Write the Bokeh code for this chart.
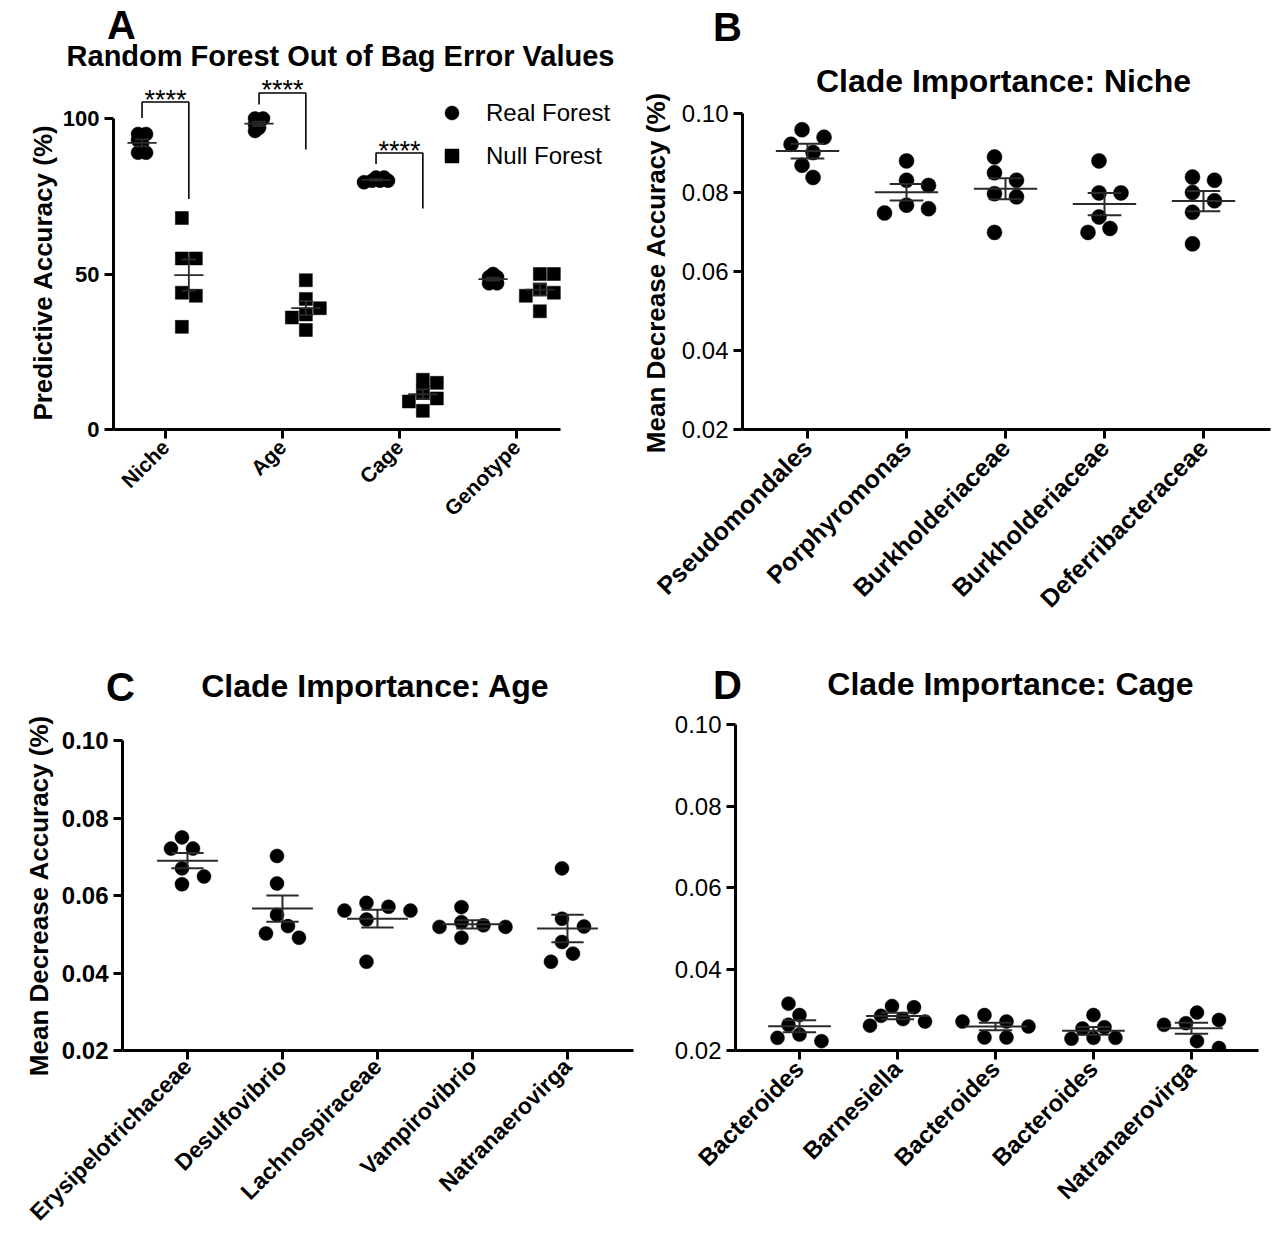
import math
import numpy as np
from bokeh.plotting import figure
from bokeh.models import FixedTicker, Label, Legend, LegendItem, Range1d, PrintfTickFormatter
from bokeh.layouts import column, row
from bokeh.embed import file_html
from bokeh.resources import INLINE

FONT = "Liberation Sans"

# ---------------- data ----------------
A_CATEGORIES = ["Niche", "Age", "Cage", "Genotype"]
A_REAL_FOREST = [[95, 95, 93, 92, 89, 89],
                 [100, 100, 99, 98, 97, 96],
                 [81, 81, 80, 80, 80, 79.5],
                 [50, 49, 49, 48, 47, 47]]
A_NULL_FOREST = [[68, 55, 55, 44, 43, 33],
                 [48, 42, 39, 37, 36, 32],
                 [16, 15, 12, 10, 9, 6],
                 [50, 50, 45, 44, 43, 38]]
A_Y_TICKS = [0, 50, 100]
# (category, label, bracket top, left leg bottom, right leg bottom)
A_SIGNIFICANCE = [("Niche", "****", 105.3, 100.2, 74.1),
                  ("Age", "****", 108.2, 104.5, 90.0),
                  ("Cage", "****", 88.9, 85.4, 71.1)]

B_CLADES = ["Pseudomondales", "Porphyromonas", "Burkholderiaceae", "Burkholderiaceae", "Deferribacteraceae"]
B_VALUES = [[0.0959, 0.0940, 0.0922, 0.0901, 0.0869, 0.0838],
            [0.0880, 0.0831, 0.0818, 0.0768, 0.0748, 0.0759],
            [0.0890, 0.0850, 0.0831, 0.0797, 0.0789, 0.0699],
            [0.0880, 0.0799, 0.0799, 0.0738, 0.0699, 0.0709],
            [0.0839, 0.0831, 0.0800, 0.0779, 0.0750, 0.0670]]

C_CLADES = ["Erysipelotrichaceae", "Desulfovibrio", "Lachnospiraceae", "Vampirovibrio", "Natranaerovirga"]
C_VALUES = [[0.0750, 0.0721, 0.0721, 0.0670, 0.0649, 0.0629],
            [0.0702, 0.0631, 0.0550, 0.0521, 0.0491, 0.0502],
            [0.0581, 0.0571, 0.0561, 0.0561, 0.0538, 0.0429],
            [0.0570, 0.0531, 0.0523, 0.0519, 0.0519, 0.0491],
            [0.0670, 0.0540, 0.0520, 0.0480, 0.0450, 0.0429]]

D_CLADES = ["Bacteroides", "Barnesiella", "Bacteroides", "Bacteroides", "Natranaerovirga"]
D_VALUES = [[0.0315, 0.0287, 0.0263, 0.0239, 0.0231, 0.0223],
            [0.0306, 0.0309, 0.0285, 0.0277, 0.0271, 0.0261],
            [0.0287, 0.0271, 0.0271, 0.0259, 0.0232, 0.0232],
            [0.0287, 0.0257, 0.0254, 0.0231, 0.0229, 0.0231],
            [0.0293, 0.0275, 0.0267, 0.0263, 0.0223, 0.0206]]

IMPORTANCE_TICKS = [0.02, 0.04, 0.06, 0.08, 0.10]

# ---------------- layout geometry (pixels) ----------------
# figures in one row share top/bottom borders (Bokeh aligns them)
GEOM = {
    "A": dict(fx=0, fy=0, w=640, h=640, l=113, r=0, t=88, b=211,
              xr=(-0.444, -0.444 + 527 / 117.0), yr=(0, 341 / 3.11), xb=(-0.444, -0.444 + 447 / 117.0)),
    "B": dict(fx=640, fy=0, w=633, h=640, l=102, r=3, t=88, b=211,
              xr=(-0.657, 4.677), yr=(0.02, 0.02 + 341 / 3950.0)),
    "C": dict(fx=0, fy=640, w=640, h=599, l=122, r=7, t=84, b=189,
              xr=(-0.684, 4.695), yr=(0.02, 0.02 + 326 / 3875.0)),
    "D": dict(fx=640, fy=640, w=633, h=599, l=95, r=15, t=84, b=189,
              xr=(-0.653, 4.684), yr=(0.02, 0.10)),
}
for g in GEOM.values():
    g["W"] = g["w"] - g["l"] - g["r"]
    g["H"] = g["h"] - g["t"] - g["b"]
    g["xppu"] = g["W"] / (g["xr"][1] - g["xr"][0])
    g["yppu"] = g["H"] / (g["yr"][1] - g["yr"][0])


def data_to_canvas(g, x, y):
    cx = g["l"] + (x - g["xr"][0]) * g["xppu"]
    cy = g["t"] + (g["yr"][1] - y) * g["yppu"]
    return cx, cy


def make_fig(g):
    p = figure(width=g["w"], height=g["h"], x_range=Range1d(*g["xr"]), y_range=Range1d(*g["yr"]),
               output_backend="svg", toolbar_location=None,
               min_border_left=g["l"], min_border_right=g["r"],
               min_border_top=g["t"], min_border_bottom=g["b"])
    p.grid.visible = False
    p.outline_line_color = None
    p.background_fill_color = "white"
    p.border_fill_color = "white"
    return p


def style_axes(p, g, names, yticks, yfmt, ybounds, tick_size, tick_bold, cat_size, cat_standoff=5):
    xa, ya = p.xaxis[0], p.yaxis[0]
    for ax in (xa, ya):
        ax.axis_line_width = 3
        ax.axis_line_color = "black"
        ax.major_tick_line_width = 3
        ax.major_tick_line_color = "black"
        ax.major_tick_out = 9
        ax.major_tick_in = 0
        ax.minor_tick_line_color = None
        ax.major_label_text_font = FONT
        ax.major_label_text_color = "black"
        ax.major_label_standoff = 5
    xa.ticker = FixedTicker(ticks=list(range(len(names))))
    xa.major_label_overrides = {i: n for i, n in enumerate(names)}
    xa.major_label_orientation = math.pi / 4
    xa.major_label_text_font_size = f"{cat_size}px"
    xa.major_label_text_font_style = "bold"
    xa.major_label_standoff = cat_standoff
    if "xb" in g:
        xa.bounds = g["xb"]
    ya.ticker = FixedTicker(ticks=yticks)
    ya.formatter = PrintfTickFormatter(format=yfmt)
    ya.bounds = ybounds
    ya.major_label_text_font_size = f"{tick_size}px"
    ya.major_label_text_font_style = "bold" if tick_bold else "normal"


def swarm_offsets(vals, g, diam, step):
    order = sorted(range(len(vals)), key=lambda i: -vals[i])
    placed = []
    offs = [0.0] * len(vals)
    cands = [0]
    for j in range(1, 30):
        cands += [j, -j]
    for i in order:
        ypx = vals[i] * g["yppu"]
        xpx = 0.0
        for c in cands:
            xpx = c * step
            if all((xpx - px) ** 2 + (ypx - py) ** 2 >= diam ** 2 - 1e-9 for px, py in placed):
                break
        placed.append((xpx, ypx))
        offs[i] = xpx
    lo, hi = min(offs), max(offs)
    shift = (lo + hi) / 2
    return [(o - shift) / g["xppu"] for o in offs]


def add_group(p, g, center, vals, marker, size, diam, step, mean_hw, cap_hw, lw):
    offs = swarm_offsets(vals, g, diam, step)
    xs = [center + o for o in offs]
    r = p.scatter(xs, vals, marker=marker, size=size, fill_color="black", line_color="black", line_width=0.5)
    m = float(np.mean(vals))
    s = float(np.std(vals, ddof=1) / math.sqrt(len(vals)))
    col = "#2a2a2a"
    p.segment(x0=[center - mean_hw], y0=[m], x1=[center + mean_hw], y1=[m], line_color=col, line_width=lw)
    p.segment(x0=[center], y0=[m - s], x1=[center], y1=[m + s], line_color=col, line_width=lw)
    p.segment(x0=[center - cap_hw, center - cap_hw], y0=[m - s, m + s],
              x1=[center + cap_hw, center + cap_hw], y1=[m - s, m + s], line_color=col, line_width=lw)
    return r


def add_text(p, g, gx, gy, text, size, side, bold=True, align="center", baseline="middle", angle=0.0):
    # gx, gy: pixel position on the page; converted to this figure's canvas
    p.add_layout(Label(x=gx - g["fx"], y=gy - g["fy"], x_units="canvas", y_units="canvas",
                       text=text, text_font=FONT, text_font_size=f"{size}px",
                       text_font_style="bold" if bold else "normal", text_align=align,
                       text_baseline=baseline, text_color="black", angle=angle), side)


# ---------------- Panel A ----------------
gA = GEOM["A"]
pA = make_fig(gA)
style_axes(pA, gA, A_CATEGORIES, A_Y_TICKS, "%d", (0, 100), 22, True, 21)
GROUP_OFF = 0.2
real_r = None
null_r = None
for i in range(len(A_CATEGORIES)):
    r1 = add_group(pA, gA, i - GROUP_OFF, A_REAL_FOREST[i], "circle", 14, 5, 4, 0.125, 0.06, 1.8)
    r2 = add_group(pA, gA, i + GROUP_OFF, A_NULL_FOREST[i], "square", 13, 12, 7, 0.125, 0.06, 1.8)
    real_r = real_r or r1
    null_r = null_r or r2
for cat, lab, top, lb, rb in A_SIGNIFICANCE:
    i = A_CATEGORIES.index(cat)
    xl, xr = i - GROUP_OFF, i + GROUP_OFF
    pA.multi_line(xs=[[xl, xl, xr, xr]], ys=[[lb, top, top, rb]], line_color="black", line_width=1.6)
    cx, cy = data_to_canvas(gA, i, top)
    add_text(pA, gA, cx + gA["fx"], cy + gA["fy"] - 2.5, lab, 27, "below", bold=False, baseline="alphabetic")
legend = Legend(items=[LegendItem(label="Real Forest", renderers=[real_r]),
                       LegendItem(label="Null Forest", renderers=[null_r])],
                location=(321, 256), glyph_width=35, glyph_height=35, label_height=35, label_width=140,
                label_standoff=17, spacing=8, padding=0, margin=0,
                border_line_color=None, background_fill_alpha=0,
                label_text_font=FONT, label_text_font_size="24px", label_text_color="black")
pA.add_layout(legend)
add_text(pA, gA, 121, 24.5, "A", 40, "above")
add_text(pA, gA, 340, 55.5, "Random Forest Out of Bag Error Values", 29, "above")
add_text(pA, gA, 42, 272, "Predictive Accuracy (%)", 26, "left", angle=math.pi / 2)

# ---------------- Panels B, C, D ----------------
def importance_panel(key, names, values, title, tlx, tly, letter, lx, ly, letter_side, ylabel,
                     tick_bold, cat_size, msize, cat_standoff=5):
    g = GEOM[key]
    p = make_fig(g)
    style_axes(p, g, names, IMPORTANCE_TICKS, "%.2f", (0.02, 0.10), 24, tick_bold, cat_size, cat_standoff)
    for i, vals in enumerate(values):
        add_group(p, g, i, vals, "circle", msize, msize, 11, 0.32, 0.17, 2)
    add_text(p, g, lx, ly, letter, 40, letter_side)
    add_text(p, g, tlx, tly, title, 32, "above")
    if ylabel:
        add_text(p, g, ylabel[1], ylabel[2], ylabel[0], 26, "left", angle=math.pi / 2)
    return p


pB = importance_panel("B", B_CLADES, B_VALUES, "Clade Importance: Niche", 1003, 80, "B", 727, 26, "above",
                      ("Mean Decrease Accuracy (%)", 655, 272), False, 25, 15)
pC = importance_panel("C", C_CLADES, C_VALUES, "Clade Importance: Age", 375, 685, "C", 120, 686, "above",
                      ("Mean Decrease Accuracy (%)", 38, 895), True, 23, 14, cat_standoff=3)
pD = importance_panel("D", D_CLADES, D_VALUES, "Clade Importance: Cage", 1010, 683, "D", 727, 684, "left",
                      None, False, 24, 14)

layout = column(row(pA, pB, spacing=0), row(pC, pD, spacing=0), spacing=0)
open("out.html", "w").write(file_html(layout, INLINE))
